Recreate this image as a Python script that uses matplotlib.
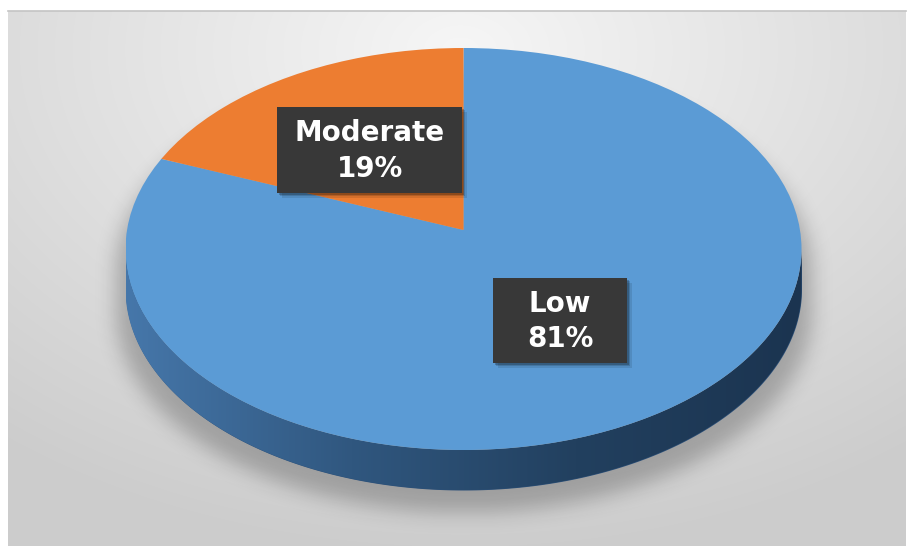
import numpy as np
import matplotlib
matplotlib.use("Agg")
import matplotlib.pyplot as plt
from matplotlib.patches import Rectangle, Circle
from matplotlib.colors import LinearSegmentedColormap

# data
categories = ["Low", "Moderate"]
shares = [81, 19]
slice_colors = ["#5b9bd5", "#ed7d31"]

# label boxes (pixel coords: left, top, width, height)
label_boxes = [(493, 278, 134, 85), (277, 107, 185, 86)]

W, H = 909, 546
fig = plt.figure(figsize=(W / 100, H / 100), dpi=100)
fig.patch.set_facecolor("white")

# ---- background panel with soft radial gradient
ax_bg = fig.add_axes([0, 0, 1, 1])
ax_bg.set_xlim(0, W)
ax_bg.set_ylim(H, 0)
ax_bg.axis("off")

px, py = np.meshgrid(np.arange(W), np.arange(H))
dist = np.sqrt(((px - 460) / 1.6) ** 2 + ((py - 50) / 1.1) ** 2)
val = np.clip(0.965 - 0.15 * dist / 420, 0.80, 1)
bg = np.dstack([val, val, val])
ax_bg.imshow(bg[11:, 8:906], extent=(8, 906, H, 11), aspect="auto", zorder=0)
ax_bg.plot([8, 906], [11, 11], color="#c4c4c4", lw=1.2, zorder=1)

# pie geometry in pixels (top face ellipse + side depth, apex a bit above centre)
cx, cy, a, b, depth = 463.5, 249, 338, 201, 40
apex_shift = 19

# ---- soft drop shadow of the pie body (mostly below)
sa, sb, sy = a + 10, b, cy + 22
u = np.clip((px - cx) / sa, -1, 1)
inside_x = np.abs(px - cx) <= sa
half = sb * np.sqrt(1 - u ** 2)
mask = (inside_x & (py >= sy - half) & (py <= sy + depth + half)).astype(float)
k = np.exp(-0.5 * (np.arange(-30, 31) / 10.0) ** 2)
k /= k.sum()
blur = np.apply_along_axis(lambda r: np.convolve(r, k, mode="same"), 1, mask)
blur = np.apply_along_axis(lambda c: np.convolve(c, k, mode="same"), 0, blur)
shadow = np.zeros((H, W, 4))
shadow[..., 3] = 0.24 * blur
ax_bg.imshow(shadow, extent=(0, W, H, 0), aspect="auto", zorder=2)

# ---- pie axes: unit circle stretched into the top-face ellipse
d = depth / b
ax = fig.add_axes([(cx - a) / W, 1 - (cy + b + depth) / H, 2 * a / W, (2 * b + depth) / H])
ax.patch.set_alpha(0)

t = np.linspace(np.pi, 2 * np.pi, 300)
xs = np.cos(t)
side = ax.fill_between(xs, np.sin(t) - d, np.sin(t), color="#2c5079", lw=0, zorder=1)
side_cmap = LinearSegmentedColormap.from_list(
    "side", ["#4677aa", "#30577f", "#22405f", "#1b3450"])
grad = np.tile(np.linspace(0, 1, 256), (10, 1))
im = ax.imshow(grad, cmap=side_cmap, extent=(-1, 1, -1 - d, 0), aspect="auto", zorder=2)
im.set_clip_path(side.get_paths()[0], transform=ax.transData)

wedges, _ = ax.pie(shares, colors=slice_colors, startangle=90, counterclock=False,
                   radius=1.25, center=(0, apex_shift / b),
                   wedgeprops=dict(linewidth=0, zorder=3))
top_face = Circle((0, 0), 1, transform=ax.transData)
for w in wedges:
    w.set_clip_on(True)
    w.set_clip_path(top_face)
ax.set_aspect("auto")
ax.set_xlim(-1, 1)
ax.set_ylim(-1 - d, 1)
ax.axis("off")

# ---- data labels
ax_top = fig.add_axes([0, 0, 1, 1])
ax_top.set_xlim(0, W)
ax_top.set_ylim(H, 0)
ax_top.axis("off")
ax_top.patch.set_alpha(0)

for cat, pct, (bx, by, bw, bh) in zip(categories, shares, label_boxes):
    for off, al in [(5, 0.10), (3, 0.15), (1.5, 0.22)]:
        ax_top.add_patch(Rectangle((bx + off, by + off), bw, bh, color="black",
                                   alpha=al, lw=0))
    ax_top.add_patch(Rectangle((bx, by), bw, bh, color="#383838", lw=0))
    ax_top.text(bx + bw / 2, by + bh / 2 + 1, f"{cat}\n{pct}%", color="white",
                fontsize=20, fontweight="bold", family="DejaVu Sans",
                ha="center", va="center", linespacing=1.35)

fig.savefig("out.png", dpi=100)
